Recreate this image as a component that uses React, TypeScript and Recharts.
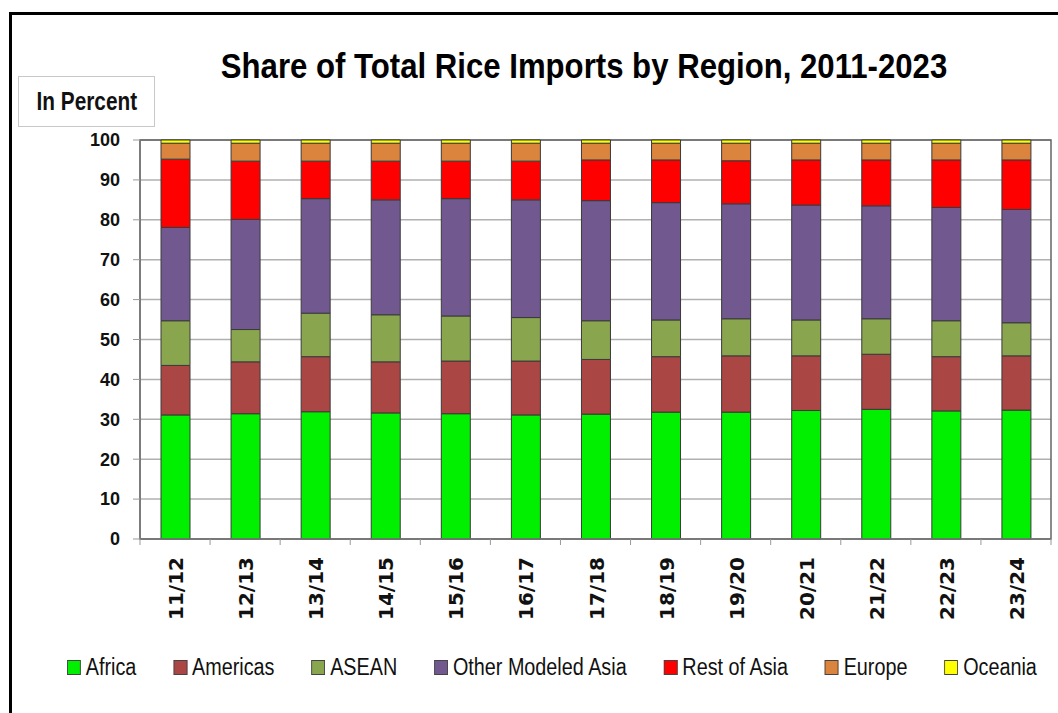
import { BarChart, Bar, XAxis, YAxis, CartesianGrid, ReferenceArea } from 'recharts';

const seasons = ['11/12', '12/13', '13/14', '14/15', '15/16', '16/17', '17/18', '18/19', '19/20', '20/21', '21/22', '22/23', '23/24'];

const africa = [31.1, 31.4, 31.9, 31.6, 31.4, 31.1, 31.3, 31.8, 31.8, 32.2, 32.5, 32.1, 32.3];
const americas = [12.4, 13.0, 13.8, 12.8, 13.2, 13.5, 13.7, 13.9, 14.1, 13.7, 13.8, 13.6, 13.6];
const asean = [11.2, 8.1, 10.9, 11.8, 11.3, 10.9, 9.7, 9.2, 9.3, 9.0, 8.9, 9.0, 8.3];
const otherAsia = [23.4, 27.6, 28.7, 28.8, 29.4, 29.5, 30.1, 29.4, 28.8, 28.8, 28.3, 28.4, 28.4];
const restOfAsia = [17.1, 14.6, 9.4, 9.7, 9.4, 9.7, 10.2, 10.7, 10.8, 11.3, 11.5, 11.9, 12.4];
const europe = [4.0, 4.5, 4.5, 4.5, 4.5, 4.5, 4.2, 4.2, 4.4, 4.2, 4.2, 4.2, 4.2];
const oceania = [0.8, 0.8, 0.8, 0.8, 0.8, 0.8, 0.8, 0.8, 0.8, 0.8, 0.8, 0.8, 0.8];

const yTicks = [0, 10, 20, 30, 40, 50, 60, 70, 80, 90, 100];

const series = [
  { key: 'africa', name: 'Africa', color: '#00F000', values: africa },
  { key: 'americas', name: 'Americas', color: '#AA4643', values: americas },
  { key: 'asean', name: 'ASEAN', color: '#89A54E', values: asean },
  { key: 'otherAsia', name: 'Other Modeled Asia', color: '#71588F', values: otherAsia },
  { key: 'restOfAsia', name: 'Rest of Asia', color: '#FF0000', values: restOfAsia },
  { key: 'europe', name: 'Europe', color: '#DB843D', values: europe },
  { key: 'oceania', name: 'Oceania', color: '#FFFF00', values: oceania },
];

const data = seasons.map((season, i) => {
  const row: Record<string, string | number> = { season };
  series.forEach((s) => {
    row[s.key] = s.values[i];
  });
  return row;
});

// no condensed font installed, so squeeze Liberation Sans to look like Calibri
const SANS = "'Liberation Sans', Arial, sans-serif";
const LEGEND_SQUEEZE = 0.86;
const BAND = (1051 - 140) / seasons.length;

function SeasonTick(props: any) {
  const { x, y, payload, index } = props;
  return (
    <g>
      <line x1={x - BAND / 2} y1={y} x2={x - BAND / 2} y2={y + 6} stroke="#999" />
      {index === seasons.length - 1 ? (
        <line x1={x + BAND / 2} y1={y} x2={x + BAND / 2} y2={y + 6} stroke="#999" />
      ) : null}
      <text
        x={0}
        y={0}
        transform={`translate(${x + 8}, ${y + 18}) rotate(-90)`}
        textAnchor="end"
        fontFamily="'DejaVu Sans', sans-serif"
        fontWeight="bold"
        fontSize={20}
        fill="#111"
      >
        {payload.value}
      </text>
    </g>
  );
}

export default function App() {
  return (
    <div style={{ position: 'absolute', left: 0, top: 0, width: 1058, height: 713, overflow: 'hidden', background: '#fff' }}>
      <div
        style={{
          position: 'absolute',
          left: 9,
          top: 12,
          width: 1100,
          height: 800,
          borderTop: '3px solid #000',
          borderLeft: '3px solid #000',
        }}
      />
      <div
        style={{
          position: 'absolute',
          left: 0,
          width: 1168,
          top: 46,
          textAlign: 'center',
          fontFamily: SANS,
          fontWeight: 'bold',
          fontSize: 35,
          color: '#000',
          transform: 'scaleX(0.89)',
          transformOrigin: '584px 0',
        }}
      >
        Share of Total Rice Imports by Region, 2011-2023
      </div>
      <div
        style={{
          position: 'absolute',
          left: 18,
          top: 76,
          width: 135,
          height: 49,
          border: '1px solid #c8c8c8',
          display: 'flex',
          alignItems: 'center',
          justifyContent: 'center',
          fontFamily: SANS,
          fontWeight: 'bold',
          fontSize: 26,
          color: '#111',
        }}
      >
        <span style={{ display: 'inline-block', transform: 'scaleX(0.8)', whiteSpace: 'nowrap' }}>In Percent</span>
      </div>
      <div style={{ position: 'absolute', left: 0, top: 0 }}>
        <BarChart width={1058} height={713} data={data} margin={{ top: 140, right: 7, left: 80, bottom: 74 }}>
          <CartesianGrid vertical={false} stroke="#b0b0b0" strokeWidth={1.5} />
          <XAxis
            dataKey="season"
            height={100}
            interval={0}
            tickLine={false}
            tickSize={0}
            tickMargin={0}
            axisLine={{ stroke: '#777', strokeWidth: 1.5 }}
            tick={<SeasonTick />}
          />
          <YAxis
            width={60}
            domain={[0, 100]}
            ticks={yTicks}
            interval={0}
            tickSize={7}
            tickMargin={13}
            tickLine={{ stroke: '#999' }}
            axisLine={{ stroke: '#777', strokeWidth: 1.5 }}
            tick={{ fill: '#111', fontSize: 18, fontWeight: 'bold', fontFamily: SANS }}
          />
          {series.map((s) => (
            <Bar
              key={s.key}
              dataKey={s.key}
              name={s.name}
              stackId="a"
              fill={s.color}
              stroke="#3a3a3a"
              strokeWidth={1}
              barSize={29}
              isAnimationActive={false}
            />
          ))}
          <ReferenceArea y1={0} y2={100} fill="none" fillOpacity={0} stroke="#666" strokeWidth={1.5} ifOverflow="visible" />
        </BarChart>
      </div>
      <div
        style={{
          position: 'absolute',
          left: 67,
          top: 654,
          display: 'flex',
          gap: 37 / LEGEND_SQUEEZE,
          fontFamily: SANS,
          fontSize: 23,
          color: '#111',
          whiteSpace: 'nowrap',
          transform: `scaleX(${LEGEND_SQUEEZE})`,
          transformOrigin: '0 0',
        }}
      >
        {series.map((s) => (
          <div key={s.key} style={{ display: 'flex', alignItems: 'center', gap: 5 / LEGEND_SQUEEZE }}>
            <span
              style={{
                display: 'inline-block',
                width: 12 / LEGEND_SQUEEZE,
                height: 13,
                background: s.color,
                border: '1px solid #444',
              }}
            />
            <span>{s.name}</span>
          </div>
        ))}
      </div>
    </div>
  );
}
